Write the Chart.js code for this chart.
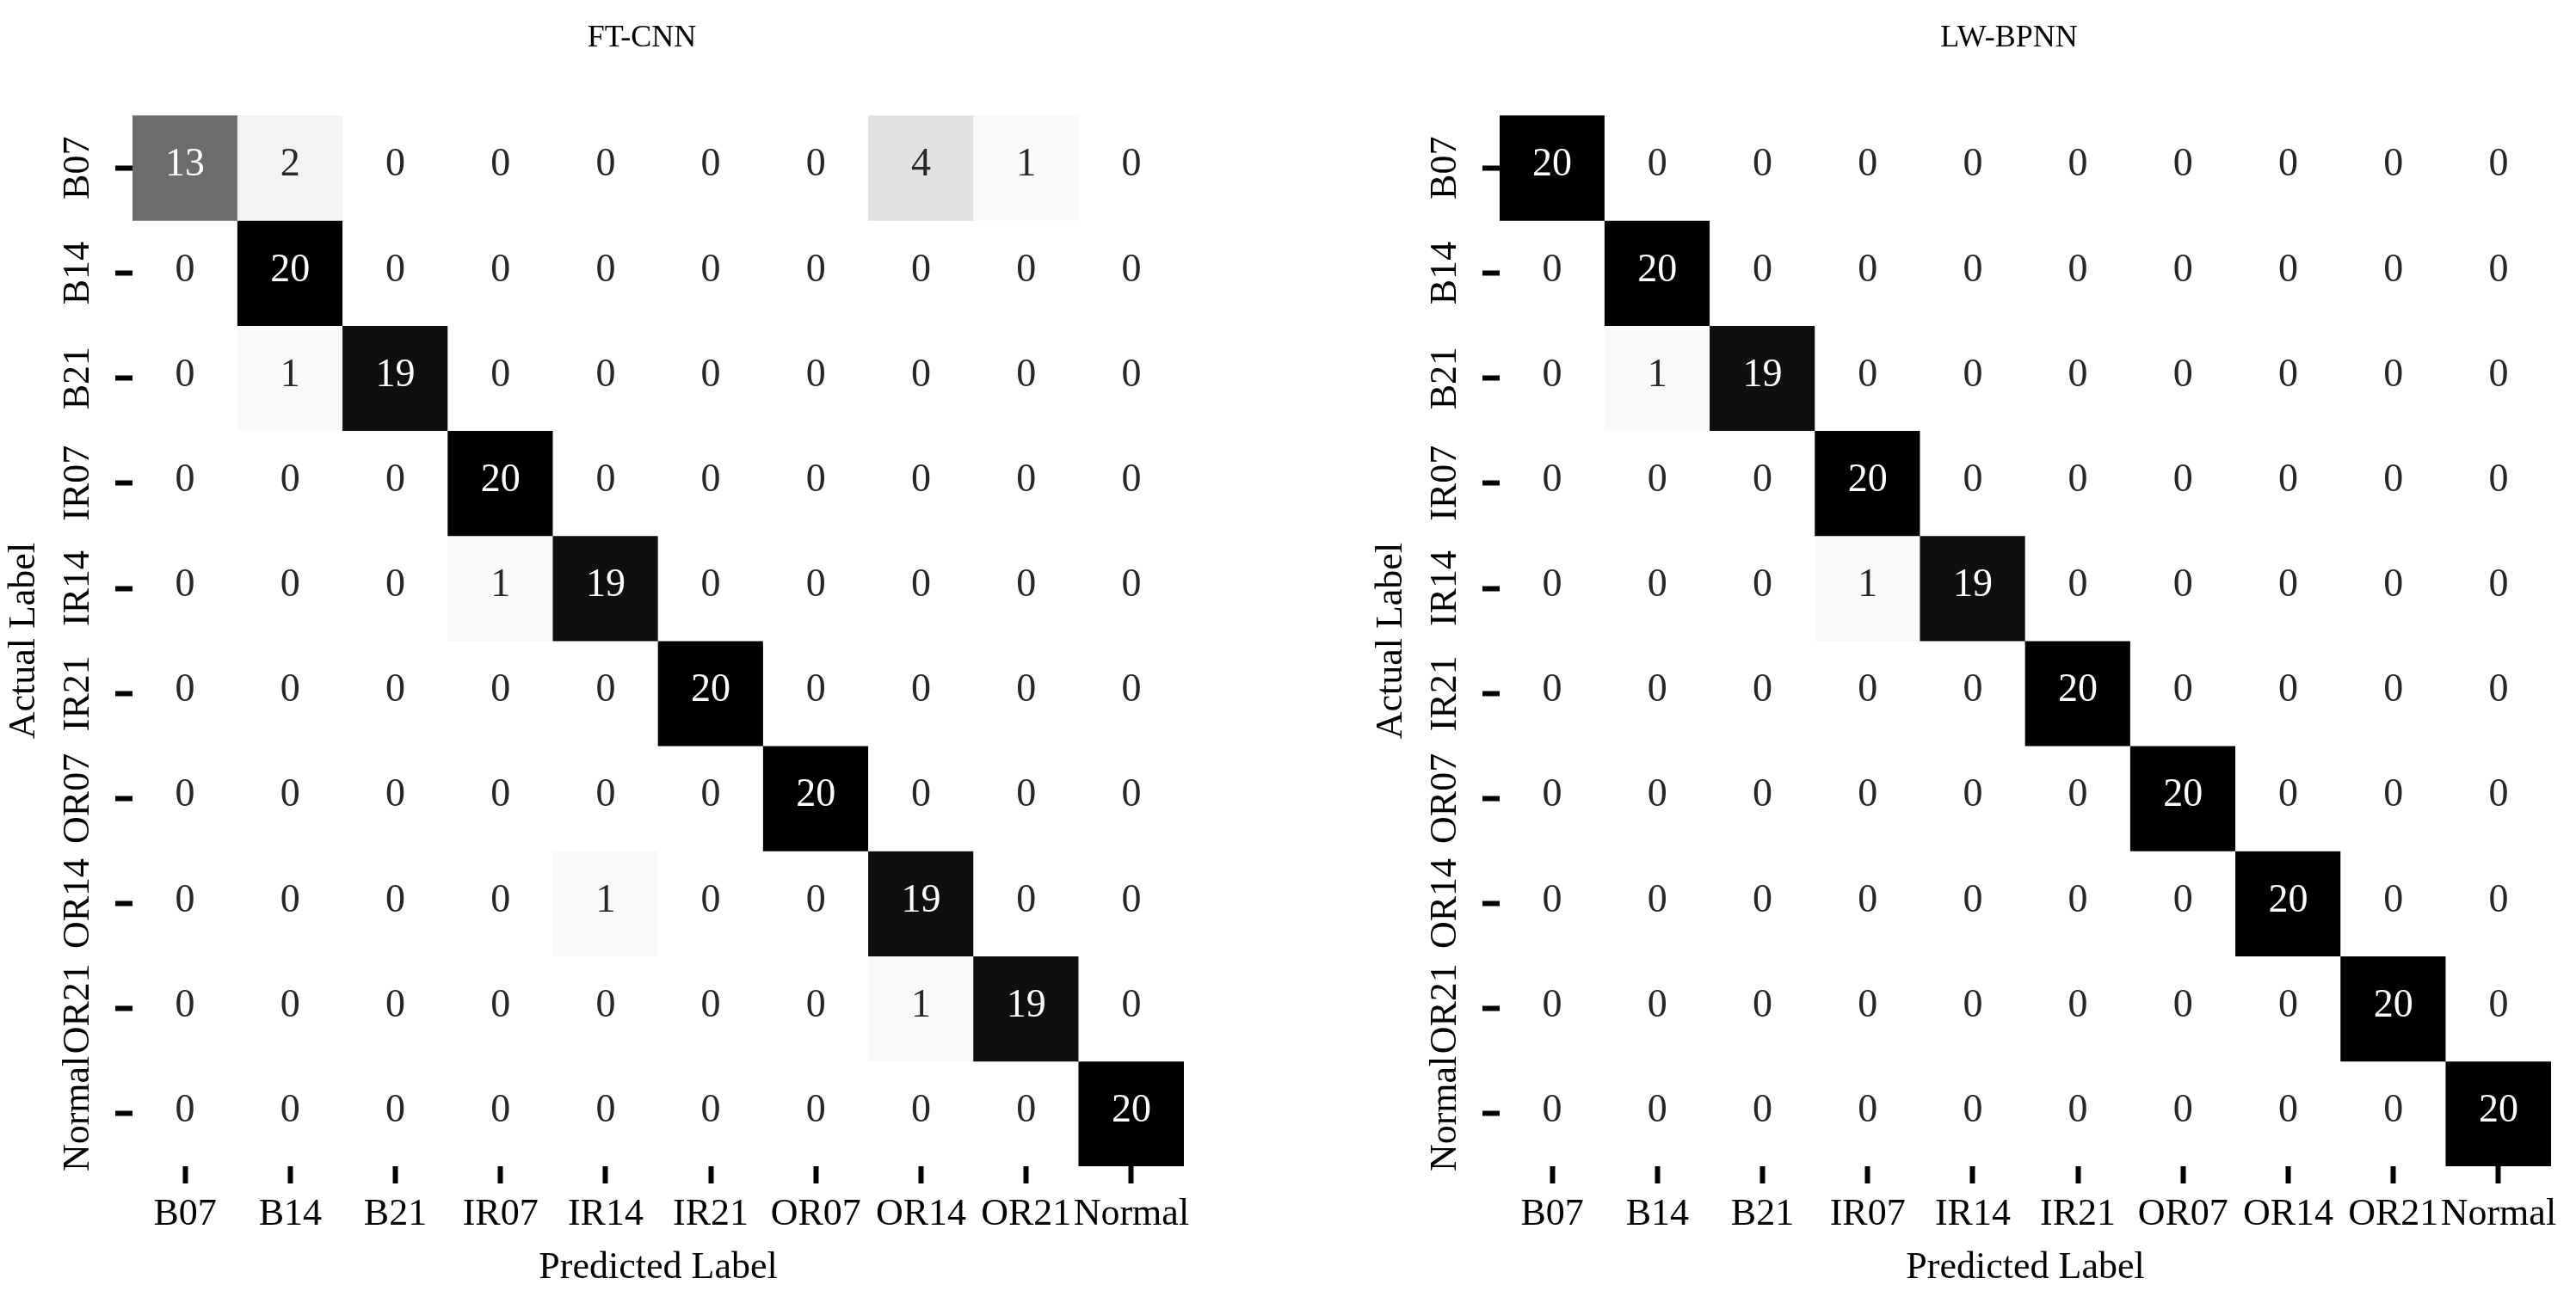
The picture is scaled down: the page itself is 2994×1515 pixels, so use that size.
<!DOCTYPE html>
<html>
<head>
<meta charset="utf-8">
<script src="https://cdn.jsdelivr.net/npm/chart.js@4.4.1/dist/chart.umd.min.js"></script>
<style>
  html, body { margin: 0; padding: 0; background: #fff; overflow: hidden; }
  #wrap { position: relative; width: 2994px; height: 1515px; overflow: hidden; }
  canvas { position: absolute; top: 0; }
</style>
</head>
<body>
<div id="wrap">
  <canvas id="left" width="1492" height="1515" style="left:0px"></canvas>
  <canvas id="right" width="1492" height="1515" style="left:1589px"></canvas>
</div>
<script>
// class names, same for both axes
const classLabels = ['B07', 'B14', 'B21', 'IR07', 'IR14', 'IR21', 'OR07', 'OR14', 'OR21', 'Normal'];

// confusion matrices, rows = actual, columns = predicted
const ftCnnRows = [
	[13, 2, 0, 0, 0, 0, 0, 4, 1, 0],
	[0, 20, 0, 0, 0, 0, 0, 0, 0, 0],
	[0, 1, 19, 0, 0, 0, 0, 0, 0, 0],
	[0, 0, 0, 20, 0, 0, 0, 0, 0, 0],
	[0, 0, 0, 1, 19, 0, 0, 0, 0, 0],
	[0, 0, 0, 0, 0, 20, 0, 0, 0, 0],
	[0, 0, 0, 0, 0, 0, 20, 0, 0, 0],
	[0, 0, 0, 0, 1, 0, 0, 19, 0, 0],
	[0, 0, 0, 0, 0, 0, 0, 1, 19, 0],
	[0, 0, 0, 0, 0, 0, 0, 0, 0, 20]
];
const lwBpnnRows = [
	[20, 0, 0, 0, 0, 0, 0, 0, 0, 0],
	[0, 20, 0, 0, 0, 0, 0, 0, 0, 0],
	[0, 1, 19, 0, 0, 0, 0, 0, 0, 0],
	[0, 0, 0, 20, 0, 0, 0, 0, 0, 0],
	[0, 0, 0, 1, 19, 0, 0, 0, 0, 0],
	[0, 0, 0, 0, 0, 20, 0, 0, 0, 0],
	[0, 0, 0, 0, 0, 0, 20, 0, 0, 0],
	[0, 0, 0, 0, 0, 0, 0, 20, 0, 0],
	[0, 0, 0, 0, 0, 0, 0, 0, 20, 0],
	[0, 0, 0, 0, 0, 0, 0, 0, 0, 20]
];

const panelTitles = ['FT-CNN', 'LW-BPNN'];
const xTitle = 'Predicted Label';
const yTitle = 'Actual Label';

const FONT = "'Liberation Serif', 'Times New Roman', serif";
Chart.defaults.font.family = FONT;
Chart.defaults.color = '#000';

// matplotlib "Greys" stops
const greyStops = [255, 240, 217, 189, 150, 115, 82, 37, 0];
function greys(t) {
	t = Math.max(0, Math.min(1, t));
	const p = t * (greyStops.length - 1);
	const i = Math.min(Math.floor(p), greyStops.length - 2);
	const g = Math.round(greyStops[i] + (greyStops[i + 1] - greyStops[i]) * (p - i));
	return 'rgb(' + g + ',' + g + ',' + g + ')';
}

// cell numbers, placed through the scales
const cellText = {
	id: 'cellText',
	afterDatasetsDraw(chart) {
		const rows = chart.options.plugins.cellText.rows;
		const vmax = chart.options.plugins.cellText.vmax;
		const xs = chart.scales.x, ys = chart.scales.y;
		const ctx = chart.ctx;
		ctx.save();
		ctx.font = '46px ' + FONT;
		ctx.textAlign = 'center';
		ctx.textBaseline = 'middle';
		rows.forEach((row, r) => {
			row.forEach((v, c) => {
				ctx.fillStyle = v / vmax > 0.45 ? '#ffffff' : '#262626';
				ctx.fillText(String(v), xs.getPixelForValue(c), ys.getPixelForValue(r + 0.5) - 3);
			});
		});
		ctx.restore();
	}
};

function drawMatrix(canvasId, title, rows) {
	const vmax = Math.max(...rows.map(r => Math.max(...r)));
	const datasets = rows.map((row, r) => ({
		data: row.map(() => [r, r + 1]),
		backgroundColor: row.map(v => greys(v / vmax)),
		borderWidth: 0,
		barPercentage: 1,
		categoryPercentage: 1,
		grouped: false
	}));

	return new Chart(document.getElementById(canvasId), {
		type: 'bar',
		data: { labels: classLabels, datasets: datasets },
		options: {
			responsive: false,
			animation: false,
			layout: { padding: 0 },
			plugins: {
				legend: { display: false },
				tooltip: { enabled: false },
				title: {
					display: true,
					text: title,
					color: '#000',
					font: { size: 36, weight: 'normal' },
					padding: { top: 23, bottom: 68 }
				},
				cellText: { rows: rows, vmax: vmax }
			},
			scales: {
				x: {
					type: 'category',
					offset: true,
					grid: { display: true, offset: false, drawOnChartArea: false, drawTicks: true, tickLength: 20, tickWidth: 6, tickColor: '#000' },
					border: { display: false },
					ticks: { font: { size: 44 }, color: '#000', padding: 10, maxRotation: 0, minRotation: 0, autoSkip: false },
					title: { display: true, text: xTitle, color: '#000', font: { size: 44 }, padding: { top: 0, bottom: 14 } },
					afterFit: s => { s.height = 159; }
				},
				y: {
					type: 'linear',
					min: 0,
					max: 10,
					reverse: true,
					afterBuildTicks: s => { s.ticks = classLabels.map((_, i) => ({ value: i + 0.5 })); },
					grid: { display: true, drawOnChartArea: false, drawTicks: true, tickLength: 20, tickWidth: 6, tickColor: '#000' },
					border: { display: false },
					ticks: {
						font: { size: 44 },
						color: '#000',
						autoSkip: false,
						minRotation: 90,
						maxRotation: 90,
						crossAlign: 'center',
						padding: -25,
						callback: v => classLabels[Math.floor(v)]
					},
					title: { display: true, text: yTitle, color: '#000', font: { size: 44 }, padding: { top: 2, bottom: 0 } },
					afterFit: s => { s.width = 154; }
				},
				yR: {
					type: 'linear',
					position: 'right',
					display: true,
					grid: { display: false },
					border: { display: false },
					ticks: { display: false },
					afterFit: s => { s.width = 116; }
				}
			}
		},
		plugins: [cellText]
	});
}

drawMatrix('left', panelTitles[0], ftCnnRows);
drawMatrix('right', panelTitles[1], lwBpnnRows);
</script>
</body>
</html>
